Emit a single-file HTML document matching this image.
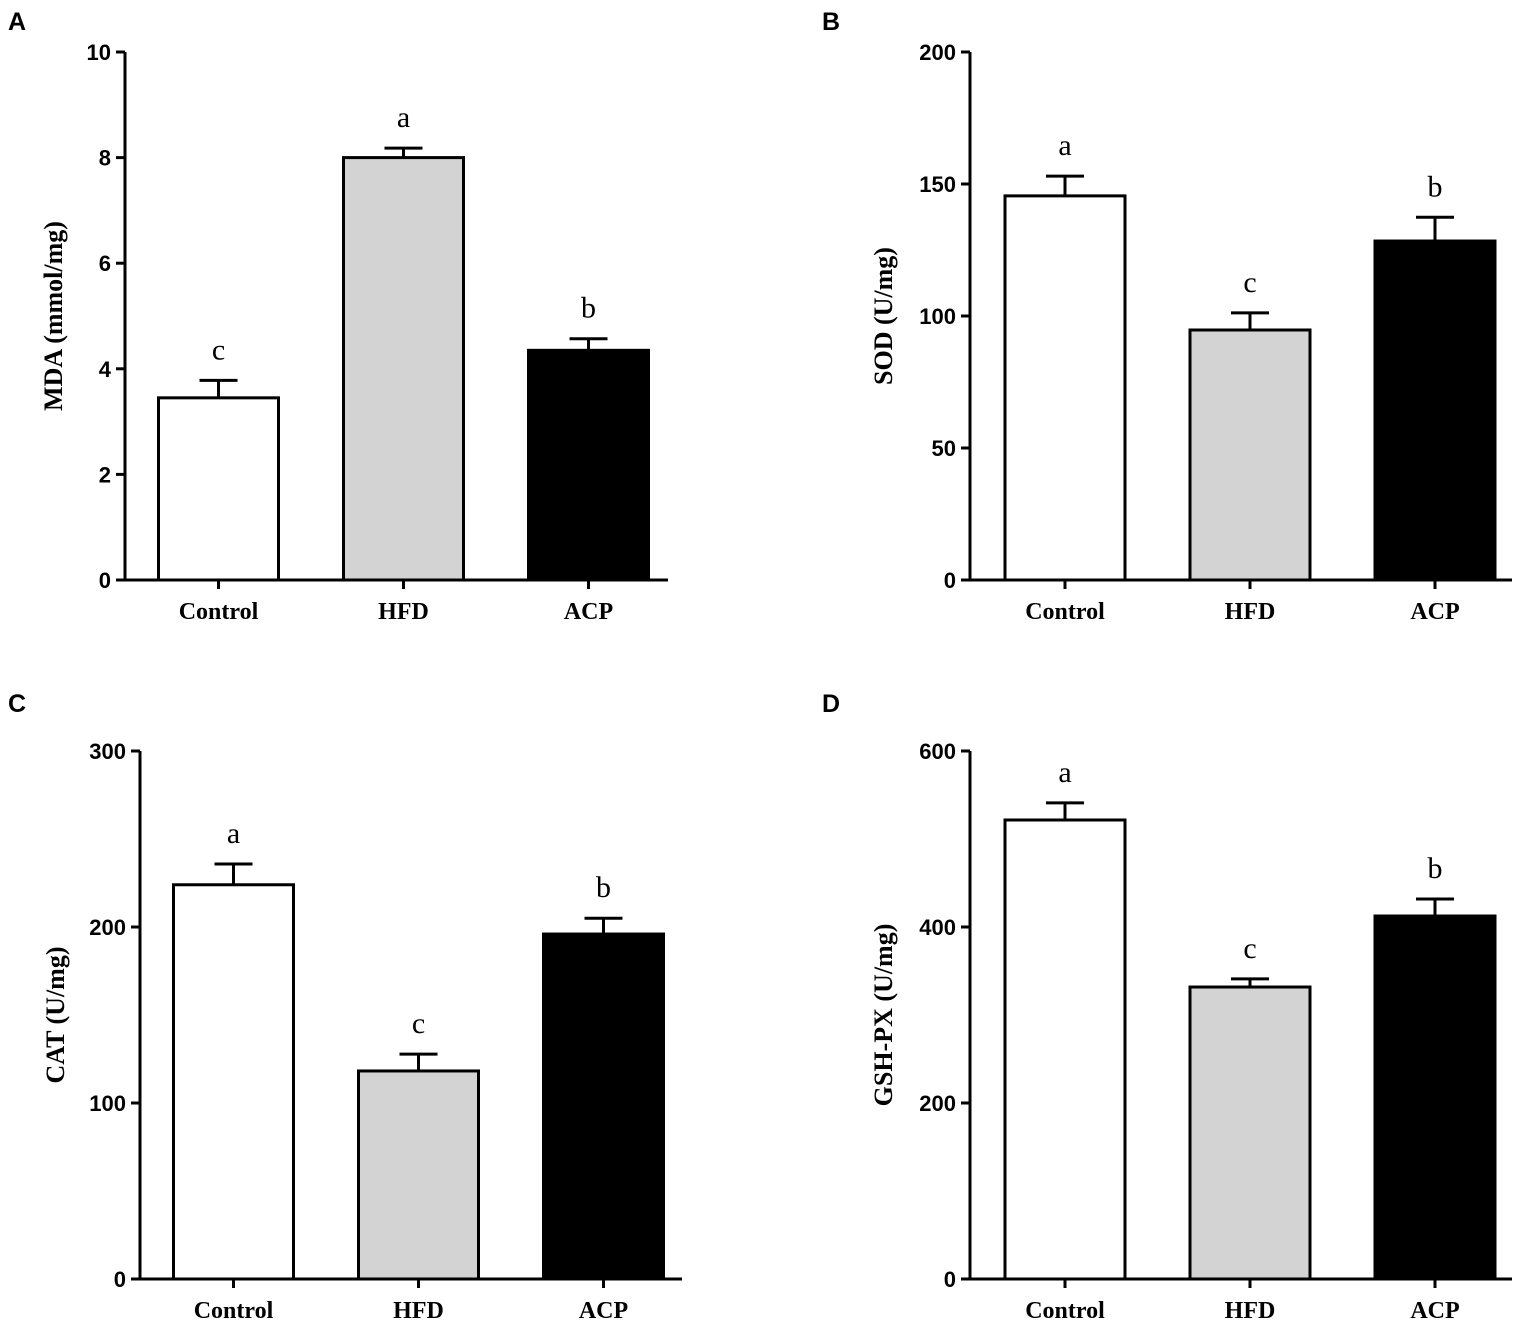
<!DOCTYPE html>
<html><head><meta charset="utf-8"><style>
html,body{margin:0;padding:0;background:#fff;}
svg{display:block;}
</style></head><body>
<svg id="fig" width="1535" height="1326" viewBox="0 0 1535 1326" xmlns="http://www.w3.org/2000/svg"></svg>
<script>
const categories = ["Control", "HFD", "ACP"];
const mdaValues = [3.45, 8.0, 4.35];
const mdaErrors = [0.33, 0.18, 0.22];
const mdaLetters = ["c", "a", "b"];
const mdaTicks = [0, 2, 4, 6, 8, 10];
const sodValues = [145.5, 94.7, 128.4];
const sodErrors = [7.5, 6.5, 9.0];
const sodLetters = ["a", "c", "b"];
const sodTicks = [0, 50, 100, 150, 200];
const catValues = [224, 118.2, 196];
const catErrors = [11.8, 9.6, 9.0];
const catLetters = ["a", "c", "b"];
const catTicks = [0, 100, 200, 300];
const gshValues = [521.6, 331.8, 412.5];
const gshErrors = [19.4, 9.2, 19.3];
const gshLetters = ["a", "c", "b"];
const gshTicks = [0, 200, 400, 600];

const NS = "http://www.w3.org/2000/svg";
const svg = document.getElementById("fig");
function el(tag, attrs, parent){const e=document.createElementNS(NS,tag);for(const k in attrs)e.setAttribute(k,attrs[k]);(parent||svg).appendChild(e);return e;}

const fills = ["#ffffff", "#d3d3d3", "#000000"];

function panel(cfg){
  const g = el("g", {});
  
  
  const ymax = cfg.ticks[cfg.ticks.length-1];
  const y = v => cfg.y0 - (v/ymax)*(cfg.y0-cfg.y1);
  const barW = 120, step = 185;
  const xc = i => cfg.firstCenter + i*step;
  const pl = el("text", {x:cfg.labelX, y:cfg.labelY, "font-family":"Liberation Sans, sans-serif","font-weight":"bold","font-size":"25"}, g);
  pl.textContent = cfg.letter;
  
  
  cfg.values.forEach((v,i)=>{
    const top = y(v), et = y(v+cfg.errors[i]);
    const eb = el("line", {x1:xc(i), x2:xc(i), y1:top, y2:et, stroke:"#000","stroke-width":3}, g);
    
    
    const cap = el("line", {x1:xc(i)-19, x2:xc(i)+19, y1:et, y2:et, stroke:"#000","stroke-width":3}, g);
    
    
    const r = el("rect", {x:xc(i)-barW/2, y:top, width:barW, height:cfg.y0-top, fill:fills[i], stroke:"#000","stroke-width":3}, g);
    
    
    const t = el("text", {x:xc(i), y:et-21, "text-anchor":"middle","font-family":"Liberation Serif, serif","font-size":"30"}, g);
    t.textContent = cfg.letters[i];
    
    
    const c = el("text", {x:xc(i), y:cfg.y0+39, "text-anchor":"middle","font-family":"Liberation Serif, serif","font-weight":"bold","font-size":"24"}, g);
    c.textContent = categories[i];
    
    
    const tk = el("line", {x1:xc(i), x2:xc(i), y1:cfg.y0, y2:cfg.y0+9, stroke:"#000","stroke-width":3}, g);
    
    
  });
  const ya = el("line", {x1:cfg.ax, x2:cfg.ax, y1:cfg.y1, y2:cfg.y0+1.5, stroke:"#000","stroke-width":3}, g);
  
  
  const xa = el("line", {x1:cfg.ax-1.5, x2:cfg.xEnd, y1:cfg.y0, y2:cfg.y0, stroke:"#000","stroke-width":3}, g);
  
  
  cfg.ticks.forEach(tv=>{
    const l = el("line", {x1:cfg.ax-9, x2:cfg.ax, y1:y(tv), y2:y(tv), stroke:"#000","stroke-width":3}, g);
    
    
    const t = el("text", {x:cfg.ax-14, y:y(tv)+8, "text-anchor":"end","font-family":"Liberation Sans, sans-serif","font-weight":"bold","font-size":"22"}, g);
    t.textContent = tv;
    
    
  });
  const yt = el("text", {x:0, y:0, transform:`translate(${cfg.titleX},${(cfg.y0+cfg.y1)/2}) rotate(-90)`, "text-anchor":"middle","font-family":"Liberation Serif, serif","font-weight":"bold","font-size":"26"}, g);
  yt.textContent = cfg.title;
  
  
}

panel({name:"panel-a-mda", letter:"A", labelX:8, labelY:30, values:mdaValues, errors:mdaErrors, letters:mdaLetters, ticks:mdaTicks, ax:125, xEnd:668, y0:580, y1:52, firstCenter:218.5, titleX:62, title:"MDA (mmol/mg)"});
panel({name:"panel-b-sod", letter:"B", labelX:822, labelY:30, values:sodValues, errors:sodErrors, letters:sodLetters, ticks:sodTicks, ax:970, xEnd:1512, y0:580, y1:52, firstCenter:1065, titleX:892, title:"SOD (U/mg)"});
panel({name:"panel-c-cat", letter:"C", labelX:8, labelY:712, values:catValues, errors:catErrors, letters:catLetters, ticks:catTicks, ax:140, xEnd:682, y0:1279, y1:751, firstCenter:233.5, titleX:64, title:"CAT (U/mg)"});
panel({name:"panel-d-gsh-px", letter:"D", labelX:822, labelY:712, values:gshValues, errors:gshErrors, letters:gshLetters, ticks:gshTicks, ax:970, xEnd:1512, y0:1279, y1:751, firstCenter:1065, titleX:892, title:"GSH-PX (U/mg)"});
</script>
</body></html>
